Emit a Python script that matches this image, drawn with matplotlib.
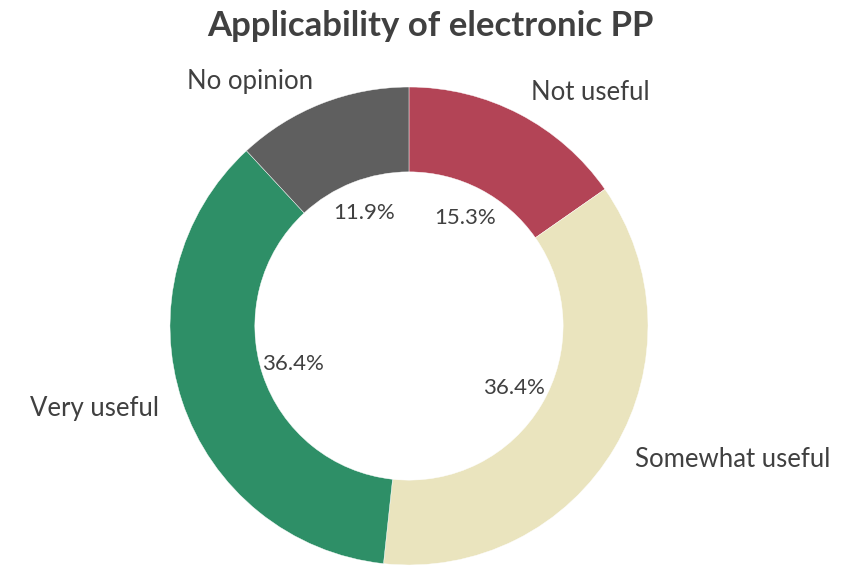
import matplotlib
matplotlib.use("Agg")
from matplotlib import pyplot as plt

categories = ["Not useful", "Somewhat useful", "Very useful", "No opinion"]
shares = [15.3, 36.4, 36.4, 11.9]
colors = ["#B34456", "#EAE4BE", "#2E8F67", "#5F5F5F"]

plt.rcParams['font.family'] = ['Lato', 'DejaVu Sans']
text_color = "#404040"

fig = plt.figure(figsize=(8.61, 5.68), dpi=100)
ax = fig.add_axes([0.1974, 0.0053, 0.5552, 0.8415])

wedges, labels, pcts = ax.pie(
    shares, labels=categories, colors=colors, startangle=90, counterclock=False,
    autopct='%.1f%%', pctdistance=0.51, labeldistance=1.1,
    wedgeprops=dict(width=0.355, edgecolor='white', linewidth=0.3),
    textprops=dict(color=text_color))
for t in labels:
    t.set_fontsize(18.5)
for t in pcts:
    t.set_fontsize(16)
ax.set_xlim(-1, 1)
ax.set_ylim(-1, 1)
ax.set_aspect('equal')

fig.text(0.5, 0.955, "Applicability of electronic PP", ha='center', va='center',
         fontsize=25, fontweight='bold', color=text_color)

fig.savefig("out.png", dpi=100)
